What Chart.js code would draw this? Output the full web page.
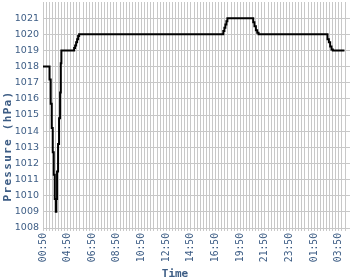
<!DOCTYPE html>
<html>
<head>
<meta charset="utf-8">
<script src="https://cdn.jsdelivr.net/npm/chart.js@4.4.0/dist/chart.umd.min.js"></script>
<style>
  html, body { margin: 0; padding: 0; background: #fff; }
  canvas { display: block; }
</style>
</head>
<body>
<canvas id="chart" width="350" height="280"></canvas>
<script>
// tick labels on the time axis, one every 8 samples
const timeLabels = ['00:50','04:50','06:50','08:50','10:50','12:50','14:50','16:50','19:50','21:50','23:50','01:50','03:50'];
const samplesPerLabel = 8;

// sample position (in grid steps) and pressure reading, stepped line
const sampleIdx = [0, 2.12, 2.5, 2.83, 3.16, 3.49, 3.81, 4.14, 4.33, 4.56, 4.89, 5.21, 5.54, 5.77, 5.96,
                   10.1, 10.42, 10.75, 11.07, 11.4, 11.73,
                   58.5, 58.85, 59.17, 59.5, 59.82,
                   68.2, 68.6, 69.06, 69.5, 69.93,
                   92.3, 92.74, 93.16, 93.6, 94.03, 97.8];
const pressure  = [1018, 1017.2, 1015.7, 1014.2, 1012.7, 1011.3, 1009.8, 1009.0, 1009.8, 1011.5, 1013.2, 1014.8, 1016.4, 1018.2, 1019,
                   1019.15, 1019.3, 1019.5, 1019.7, 1019.9, 1020,
                   1020.2, 1020.4, 1020.6, 1020.8, 1021,
                   1020.75, 1020.5, 1020.25, 1020.1, 1020,
                   1019.7, 1019.5, 1019.25, 1019.05, 1019, 1019];

const yTitle = 'Pressure (hPa)';
const xTitle = 'Time';
const textColor = '#3d5d85';
const gridColor = '#c8c8c8';

// axis titles are centred on the canvas, not the plot, so draw them by hand
const titlesPlugin = {
  id: 'titles',
  afterDraw(chart) {
    const ctx = chart.ctx;
    ctx.save();
    ctx.fillStyle = textColor;
    ctx.font = 'bold 11px "DejaVu Sans Mono"';
    ctx.textAlign = 'center';
    ctx.textBaseline = 'alphabetic';
    ctx.fillText(xTitle, 175, 277);
    ctx.translate(11, 146);
    ctx.rotate(-Math.PI / 2);
    ctx.letterSpacing = '1.3px';
    ctx.fillText(yTitle, 0, 0);
    ctx.restore();
  }
};

new Chart(document.getElementById('chart'), {
  type: 'line',
  data: {
    datasets: [{
      data: sampleIdx.map((x, i) => ({ x, y: pressure[i] })),
      borderColor: '#000',
      borderWidth: 2,
      pointRadius: 0,
      stepped: true,
      fill: false
    }]
  },
  options: {
    responsive: false,
    animation: false,
    devicePixelRatio: 1,
    layout: { padding: { top: 2, right: 0, left: 0, bottom: 0 } },
    plugins: { legend: { display: false }, tooltip: { enabled: false } },
    scales: {
      x: {
        type: 'linear',
        min: 0,
        max: 99.6,
        border: { color: gridColor },
        grid: { color: gridColor, tickLength: 3, tickColor: gridColor },
        ticks: {
          stepSize: 1,
          autoSkip: false,
          maxTicksLimit: 500,
          minRotation: 90,
          maxRotation: 90,
          padding: 2,
          color: textColor,
          font: { family: '"DejaVu Sans Mono"', size: 9.7 },
          callback: v => (Number.isInteger(v) && v % samplesPerLabel === 0) ? (timeLabels[v / samplesPerLabel] || '') : ''
        },
        afterFit: s => { s.height = 52; s.paddingLeft = 0; s.paddingRight = 0; }
      },
      y: {
        min: 1008,
        max: 1022,
        border: { color: gridColor },
        grid: {
          drawTicks: false,
          color: c => c.tick && c.tick.value === 1022 ? 'rgba(0,0,0,0)' : gridColor
        },
        ticks: {
          stepSize: 1,
          padding: 4,
          color: textColor,
          font: { family: '"DejaVu Sans"', size: 9.5 },
          callback: v => v === 1022 ? '' : v
        },
        afterFit: s => { s.width = 43; s.paddingTop = 0; s.paddingBottom = 0; }
      }
    }
  },
  plugins: [titlesPlugin]
});
</script>
</body>
</html>
